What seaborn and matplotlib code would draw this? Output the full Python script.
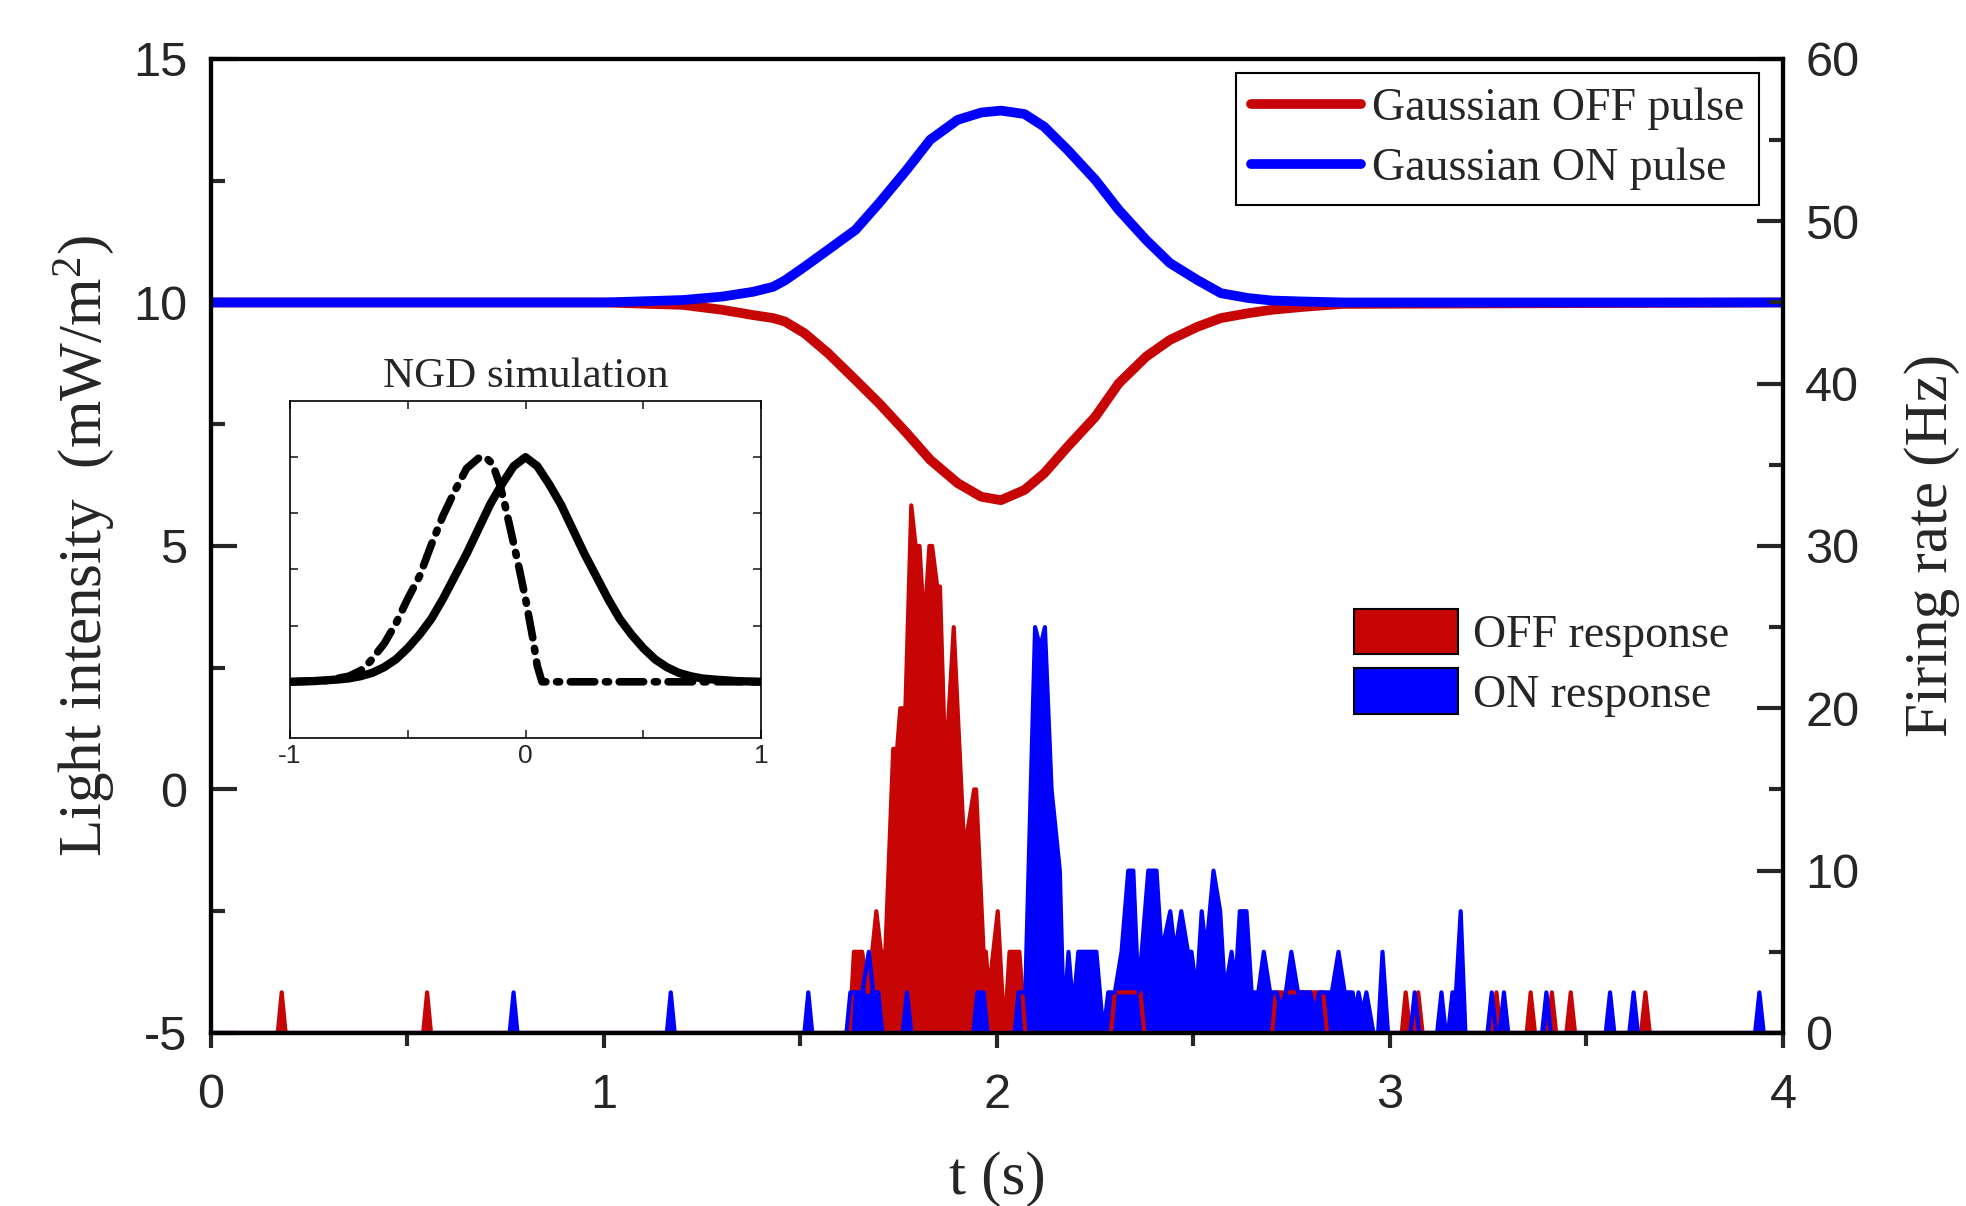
import matplotlib
matplotlib.use('Agg')
import matplotlib.pyplot as plt
import seaborn as sns
from matplotlib.patches import Patch
from matplotlib.ticker import MultipleLocator

sns.set_style('ticks')
plt.rcParams['font.family'] = ['Liberation Serif', 'DejaVu Serif']
plt.rcParams['mathtext.fontset'] = 'custom'
plt.rcParams['mathtext.rm'] = 'Liberation Serif'
plt.rcParams['mathtext.it'] = 'Liberation Serif:italic'
plt.rcParams['axes.unicode_minus'] = False

RED = '#C80505'
BLUE = '#0000FF'

# Gaussian light pulses (mW/m^2)
pulse_t = [0.00, 1.00, 1.20, 1.30, 1.38, 1.43, 1.46, 1.51, 1.57, 1.64, 1.70, 1.77, 1.83, 1.90, 1.96,
           2.01, 2.07, 2.12, 2.18, 2.25, 2.31, 2.38, 2.44, 2.51, 2.57, 2.64, 2.70, 2.78, 2.88, 4.00]
on_pulse = [10.0, 10.0, 10.05, 10.12, 10.22, 10.32, 10.45, 10.73, 11.08, 11.49, 12.04, 12.72, 13.34, 13.75, 13.90,
            13.94, 13.87, 13.61, 13.13, 12.52, 11.90, 11.28, 10.81, 10.46, 10.19, 10.09, 10.04, 10.02, 10.0, 10.0]
off_pulse = [10.0, 10.0, 9.95, 9.85, 9.74, 9.68, 9.61, 9.37, 8.96, 8.41, 7.93, 7.32, 6.77, 6.29, 6.01,
             5.94, 6.15, 6.49, 7.04, 7.65, 8.34, 8.89, 9.23, 9.50, 9.68, 9.78, 9.85, 9.91, 9.97, 10.0]

# Firing rate (Hz), OFF response
off_t = [0.00, 0.17, 0.18, 0.19, 0.54, 0.55, 0.56, 1.625, 1.636, 1.657, 1.672, 1.693, 1.705, 1.716,
         1.736, 1.746, 1.754, 1.767, 1.782, 1.793, 1.803, 1.815, 1.828, 1.835, 1.848, 1.855, 1.869,
         1.890, 1.917, 1.942, 1.947, 1.966, 1.972, 1.979, 2.002, 2.019, 2.032, 2.057, 2.072, 2.290,
         2.300, 2.365, 2.375, 2.700, 2.710, 2.830, 2.840, 3.030, 3.040, 3.052, 3.062, 3.072, 3.083,
         3.260, 3.271, 3.282, 3.348, 3.358, 3.369, 3.401, 3.412, 3.423, 3.449, 3.460, 3.471, 3.639,
         3.650, 3.661, 4.00]
off_hz = [0, 0, 2.5, 0, 0, 2.5, 0, 0, 5, 5, 2.5, 7.5, 5, 5,
          17.5, 17.5, 20, 20, 32.5, 30, 30, 25, 30, 30, 27.5, 27.5, 16.25,
          25, 11.25, 15, 15, 5, 5, 2.5, 7.5, 0, 5, 5, 0, 0,
          2.5, 2.5, 0, 0, 2.5, 2.5, 0, 0, 2.5, 0, 0, 2.5, 0,
          0, 2.5, 0, 0, 2.5, 0, 0, 2.5, 0, 0, 2.5, 0, 0,
          2.5, 0, 0]

# Firing rate (Hz), ON response
on_t = [0.00, 0.76, 0.77, 0.78, 1.16, 1.17, 1.18, 1.51, 1.52, 1.53, 1.617, 1.627, 1.657, 1.674,
        1.685, 1.698, 1.708, 1.760, 1.771, 1.782, 1.940, 1.950, 1.966, 1.976, 2.045, 2.055, 2.072,
        2.097, 2.110, 2.122, 2.139, 2.160, 2.170, 2.182, 2.194, 2.207, 2.253, 2.271, 2.283, 2.300,
        2.317, 2.334, 2.347, 2.360, 2.385, 2.406, 2.419, 2.441, 2.453, 2.469, 2.486, 2.495, 2.508,
        2.521, 2.532, 2.551, 2.568, 2.580, 2.597, 2.607, 2.618, 2.635, 2.648, 2.665, 2.679, 2.695,
        2.712, 2.722, 2.735, 2.749, 2.766, 2.797, 2.808, 2.820, 2.840, 2.852, 2.869, 2.885, 2.905,
        2.912, 2.920, 2.930, 2.940, 2.958, 2.970, 2.981, 2.995, 3.052, 3.063, 3.074, 3.120, 3.131,
        3.142, 3.148, 3.159, 3.168, 3.180, 3.192, 3.248, 3.259, 3.270, 3.279, 3.290, 3.301, 3.387,
        3.398, 3.409, 3.549, 3.560, 3.571, 3.609, 3.620, 3.631, 3.929, 3.940, 3.951, 4.00]
on_hz = [0, 0, 2.5, 0, 0, 2.5, 0, 0, 2.5, 0, 0, 2.5, 2.5, 5,
         2.5, 2.5, 0, 0, 2.5, 0, 0, 2.5, 2.5, 0, 0, 2.5, 2.5,
         25, 23.75, 25, 15, 10, 0.75, 5, 1.5, 5, 5, 0, 2.5, 2.5,
         5, 10, 10, 2.5, 10, 10, 5, 7.5, 5, 7.5, 5, 5, 2.5,
         7.5, 5, 10, 7.5, 2.5, 5, 3, 7.5, 7.5, 2.5, 2.5, 5, 2.5,
         2.5, 1.5, 2.5, 5, 2.5, 2.5, 1.25, 2.5, 2.5, 2.5, 5, 2.5, 2.5,
         1.25, 2.5, 1.25, 2.5, 0, 0, 5, 0, 0, 2.5, 0, 0, 2.5,
         0, 0, 2.5, 2.5, 7.5, 0, 0, 2.5, 0, 0, 2.5, 0, 0,
         2.5, 0, 0, 2.5, 0, 0, 2.5, 0, 0, 2.5, 0, 0]

# NGD simulation inset
ngd_x = [-1.0, -0.9, -0.8, -0.75, -0.7, -0.65, -0.6, -0.55, -0.5, -0.45, -0.4, -0.35, -0.3, -0.25,
         -0.2, -0.15, -0.1, -0.05, 0.0, 0.05, 0.1, 0.15, 0.2, 0.25, 0.3, 0.35, 0.4, 0.45, 0.5,
         0.55, 0.6, 0.65, 0.7, 0.75, 0.8, 0.9, 1.0]
ngd_in = [0.0, 0.003, 0.01, 0.015, 0.025, 0.04, 0.065, 0.1, 0.15, 0.21, 0.28, 0.37, 0.47, 0.57,
          0.68, 0.79, 0.88, 0.96, 1.0, 0.96, 0.88, 0.79, 0.68, 0.57, 0.47, 0.37, 0.28, 0.21, 0.15,
          0.1, 0.065, 0.04, 0.025, 0.015, 0.01, 0.003, 0.0]
ngd_out_x = [-1.0, -0.85, -0.75, -0.7, -0.66, -0.6, -0.55, -0.5, -0.45, -0.4, -0.35, -0.3, -0.25,
             -0.2, -0.17, -0.14, -0.11, -0.09, -0.06, -0.03, 0.0, 0.03, 0.05, 0.07, 1.0]
ngd_out = [0.0, 0.005, 0.025, 0.05, 0.09, 0.17, 0.26, 0.37, 0.47, 0.61, 0.74, 0.85, 0.95,
           0.995, 1.0, 0.97, 0.88, 0.80, 0.66, 0.52, 0.37, 0.2, 0.07, 0.0, 0.0]

fig = plt.figure(figsize=(19.66, 12.06), dpi=100)
ax = fig.add_axes([0.1073, 0.1435, 0.7996, 0.8076])
ax2 = ax.twinx()

# light pulses
sns.lineplot(x=pulse_t, y=off_pulse, ax=ax, color=RED, lw=7, label='Gaussian OFF pulse')
sns.lineplot(x=pulse_t, y=on_pulse, ax=ax, color=BLUE, lw=7, label='Gaussian ON pulse')

# firing rates
ax2.fill_between(off_t, 0, off_hz, color=RED, lw=0)
ax2.plot(off_t, off_hz, color=RED, lw=3, solid_joinstyle='round', clip_on=False)
ax2.fill_between(on_t, 0, on_hz, color=BLUE, lw=0)
ax2.plot(on_t, on_hz, color=BLUE, lw=3, solid_joinstyle='round', clip_on=False)

ax.set_xlim(0, 4)
ax.set_ylim(-5, 15)
ax2.set_ylim(0, 60)

ax.xaxis.set_major_locator(MultipleLocator(1))
ax.xaxis.set_minor_locator(MultipleLocator(0.5))
ax.yaxis.set_major_locator(MultipleLocator(5))
ax.yaxis.set_minor_locator(MultipleLocator(2.5))
ax2.yaxis.set_major_locator(MultipleLocator(10))
ax2.yaxis.set_minor_locator(MultipleLocator(5))

ax.tick_params(axis='x', which='major', direction='out', length=11, width=3, pad=18,
               labelsize=35, labelfontfamily='Liberation Sans')
ax.tick_params(axis='x', which='minor', direction='out', length=9, width=3)
ax.tick_params(axis='y', which='major', direction='in', length=19, width=3, pad=17,
               labelsize=35, labelfontfamily='Liberation Sans')
ax.tick_params(axis='y', which='minor', direction='in', length=10, width=3)
ax2.tick_params(axis='y', which='major', direction='in', length=19, width=3, pad=16,
                labelsize=35, labelfontfamily='Liberation Sans')
ax2.tick_params(axis='y', which='minor', direction='in', length=10, width=3)

for a in (ax, ax2):
    for s in a.spines.values():
        s.set_linewidth(3)
        s.set_color('black')

ax.set_xlabel('t (s)', fontsize=44, labelpad=24)
ax.set_ylabel('Light intensity  (mW/m$^2$)', fontsize=44, labelpad=12)
ax2.set_ylabel('Firing rate (Hz)', fontsize=44, labelpad=32)

leg1 = ax.legend(loc='upper right', bbox_to_anchor=(1759 / 1966, 1 - 73 / 1206),
                 bbox_transform=fig.transFigure, borderaxespad=0, frameon=True, fancybox=False,
                 framealpha=1, edgecolor='black', prop={'family': 'Liberation Serif', 'size': 33},
                 handlelength=2.4, handletextpad=0.25, borderpad=0.32, labelspacing=0.38)
leg1.get_frame().set_linewidth(1.5)

resp_handles = [Patch(facecolor=RED, edgecolor='black', lw=1.5, label='OFF response'),
                Patch(facecolor=BLUE, edgecolor='black', lw=1.5, label='ON response')]
ax2.legend(handles=resp_handles, loc='upper left', bbox_to_anchor=(1354 / 1966, 1 - 609 / 1206),
           bbox_transform=fig.transFigure, borderaxespad=0, borderpad=0, frameon=False,
           prop={'family': 'Liberation Serif', 'size': 33}, handlelength=2.27,
           handleheight=1.15, handletextpad=0.33, labelspacing=0.24)

# inset
axin = fig.add_axes([0.1475, 0.3881, 0.2396, 0.2794])
axin.set_facecolor('white')
sns.lineplot(x=ngd_x, y=ngd_in, ax=axin, color='black', lw=6)
axin.plot(ngd_out_x, ngd_out, color='black', lw=5.5, ls=(0, (3.2, 1.4, 0.4, 1.4)),
          dash_capstyle='round')
axin.set_xlim(-1, 1)
axin.set_ylim(-0.25, 1.25)
axin.set_xticks([-1, -0.5, 0, 0.5, 1])
axin.set_xticklabels(['-1', '', '0', '', '1'])
axin.set_yticks([0, 0.25, 0.5, 0.75, 1.0])
axin.tick_params(direction='in', top=True, right=True, length=6, width=1.2, labelsize=19,
                 labelleft=False, labelfontfamily='Liberation Sans', pad=4)
for s in axin.spines.values():
    s.set_linewidth(1.2)
    s.set_color('black')
axin.set_title('NGD simulation', fontsize=31, pad=10)

fig.savefig('out.png', dpi=100)
